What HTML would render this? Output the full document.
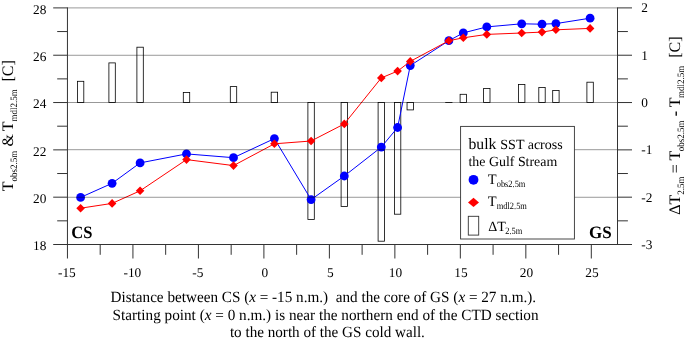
<!DOCTYPE html>
<html><head><meta charset="utf-8"><title>bulk SST across the Gulf Stream</title>
<style>html,body{margin:0;padding:0;background:#fff}svg{display:block}text{text-rendering:geometricPrecision;font-family:"Liberation Serif","Times New Roman",serif;fill:#000}</style></head><body>
<svg width="685" height="342" viewBox="0 0 685 342">
<rect width="685" height="342" fill="#fff"/>
<g fill="none" stroke="#000" stroke-width="0.8">
<rect x="77.40" y="81.30" width="6.4" height="21.24"/>
<rect x="108.90" y="62.90" width="6.4" height="39.64"/>
<rect x="136.90" y="47.20" width="6.4" height="55.34"/>
<rect x="183.30" y="92.40" width="6.4" height="10.14"/>
<rect x="230.30" y="86.60" width="6.4" height="15.94"/>
<rect x="271.20" y="92.20" width="6.4" height="10.34"/>
<rect x="307.90" y="102.54" width="6.4" height="116.86"/>
<rect x="341.10" y="102.54" width="6.4" height="103.86"/>
<rect x="378.10" y="102.54" width="6.4" height="138.66"/>
<rect x="394.40" y="102.54" width="6.4" height="111.66"/>
<rect x="407.05" y="102.54" width="6.4" height="7.36"/>
<rect x="445.65" y="102.50" width="6.4" height="0.04"/>
<rect x="460.10" y="94.30" width="6.4" height="8.24"/>
<rect x="483.60" y="88.50" width="6.4" height="14.04"/>
<rect x="518.50" y="84.50" width="6.4" height="18.04"/>
<rect x="538.80" y="87.40" width="6.4" height="15.14"/>
<rect x="552.70" y="90.40" width="6.4" height="12.14"/>
<rect x="586.90" y="82.20" width="6.4" height="20.34"/>
</g>
<polyline fill="none" stroke="#0000ff" stroke-width="1" points="80.6,197.4 112.1,183.3 140.1,162.9 186.5,153.9 233.5,157.7 274.4,138.6 311.1,199.6 344.3,176.0 381.3,147.1 397.6,127.5 410.25,65.6 448.85,40.7 463.3,32.9 486.8,26.9 521.7,23.8 542.0,24.2 555.9,23.6 590.1,18.2"/>
<g fill="#0000ff"><circle cx="80.6" cy="197.4" r="4.4"/><circle cx="112.1" cy="183.3" r="4.4"/><circle cx="140.1" cy="162.9" r="4.4"/><circle cx="186.5" cy="153.9" r="4.4"/><circle cx="233.5" cy="157.7" r="4.4"/><circle cx="274.4" cy="138.6" r="4.4"/><circle cx="311.1" cy="199.6" r="4.4"/><circle cx="344.3" cy="176.0" r="4.4"/><circle cx="381.3" cy="147.1" r="4.4"/><circle cx="397.6" cy="127.5" r="4.4"/><circle cx="410.25" cy="65.6" r="4.4"/><circle cx="448.85" cy="40.7" r="4.4"/><circle cx="463.3" cy="32.9" r="4.4"/><circle cx="486.8" cy="26.9" r="4.4"/><circle cx="521.7" cy="23.8" r="4.4"/><circle cx="542.0" cy="24.2" r="4.4"/><circle cx="555.9" cy="23.6" r="4.4"/><circle cx="590.1" cy="18.2" r="4.4"/></g>
<polyline fill="none" stroke="#ff0000" stroke-width="1" points="80.6,208.2 112.1,203.4 140.1,190.8 186.5,159.6 233.5,165.6 274.4,143.8 311.1,141.0 344.3,123.9 381.3,77.9 397.6,71.1 410.25,61.4 448.85,40.7 463.3,37.8 486.8,34.4 521.7,33.0 542.0,32.1 555.9,29.8 590.1,28.4"/>
<g fill="#ff0000"><path d="M76.30 208.2L80.6 203.90L84.90 208.2L80.6 212.50Z"/><path d="M107.80 203.4L112.1 199.10L116.40 203.4L112.1 207.70Z"/><path d="M135.80 190.8L140.1 186.50L144.40 190.8L140.1 195.10Z"/><path d="M182.20 159.6L186.5 155.30L190.80 159.6L186.5 163.90Z"/><path d="M229.20 165.6L233.5 161.30L237.80 165.6L233.5 169.90Z"/><path d="M270.10 143.8L274.4 139.50L278.70 143.8L274.4 148.10Z"/><path d="M306.80 141.0L311.1 136.70L315.40 141.0L311.1 145.30Z"/><path d="M340.00 123.9L344.3 119.60L348.60 123.9L344.3 128.20Z"/><path d="M377.00 77.9L381.3 73.60L385.60 77.9L381.3 82.20Z"/><path d="M393.30 71.1L397.6 66.80L401.90 71.1L397.6 75.40Z"/><path d="M405.95 61.4L410.25 57.10L414.55 61.4L410.25 65.70Z"/><path d="M444.55 40.7L448.85 36.40L453.15 40.7L448.85 45.00Z"/><path d="M459.00 37.8L463.3 33.50L467.60 37.8L463.3 42.10Z"/><path d="M482.50 34.4L486.8 30.10L491.10 34.4L486.8 38.70Z"/><path d="M517.40 33.0L521.7 28.70L526.00 33.0L521.7 37.30Z"/><path d="M537.70 32.1L542.0 27.80L546.30 32.1L542.0 36.40Z"/><path d="M551.60 29.8L555.9 25.50L560.20 29.8L555.9 34.10Z"/><path d="M585.80 28.4L590.1 24.10L594.40 28.4L590.1 32.70Z"/></g>
<g stroke="#000" stroke-width="1" opacity="0.4">
<line x1="67.45" x2="617.5" y1="7.9" y2="7.9"/>
<line x1="67.45" x2="617.5" y1="55.27" y2="55.27"/>
<line x1="67.45" x2="617.5" y1="102.5" y2="102.5"/>
<line x1="67.45" x2="617.5" y1="149.7" y2="149.7"/>
<line x1="67.45" x2="617.5" y1="197.27" y2="197.27"/>
</g>
<rect x="460.6" y="126.4" width="113.8" height="112.6" fill="#fff" stroke="#333" stroke-width="0.9"/>
<g stroke="#333" stroke-width="1" fill="none">
<line x1="67.45" x2="67.45" y1="7.4" y2="258.5"/>
<line x1="617.5" x2="617.5" y1="7.4" y2="245.0"/>
<line x1="53.2" x2="632" y1="244.5" y2="244.5"/>
<line x1="53.2" x2="67.45" y1="7.90" y2="7.90"/>
<line x1="617.5" x2="632" y1="7.90" y2="7.90"/>
<line x1="57.2" x2="67.45" y1="31.56" y2="31.56"/>
<line x1="617.5" x2="627.9" y1="31.56" y2="31.56"/>
<line x1="53.2" x2="67.45" y1="55.22" y2="55.22"/>
<line x1="617.5" x2="632" y1="55.22" y2="55.22"/>
<line x1="57.2" x2="67.45" y1="78.88" y2="78.88"/>
<line x1="617.5" x2="627.9" y1="78.88" y2="78.88"/>
<line x1="53.2" x2="67.45" y1="102.54" y2="102.54"/>
<line x1="617.5" x2="632" y1="102.54" y2="102.54"/>
<line x1="57.2" x2="67.45" y1="126.20" y2="126.20"/>
<line x1="617.5" x2="627.9" y1="126.20" y2="126.20"/>
<line x1="53.2" x2="67.45" y1="149.86" y2="149.86"/>
<line x1="617.5" x2="632" y1="149.86" y2="149.86"/>
<line x1="57.2" x2="67.45" y1="173.52" y2="173.52"/>
<line x1="617.5" x2="627.9" y1="173.52" y2="173.52"/>
<line x1="53.2" x2="67.45" y1="197.18" y2="197.18"/>
<line x1="617.5" x2="632" y1="197.18" y2="197.18"/>
<line x1="57.2" x2="67.45" y1="220.84" y2="220.84"/>
<line x1="617.5" x2="627.9" y1="220.84" y2="220.84"/>
<line x1="100.19" x2="100.19" y1="244.5" y2="254.8"/>
<line x1="132.93" x2="132.93" y1="244.5" y2="258.5"/>
<line x1="165.67" x2="165.67" y1="244.5" y2="254.8"/>
<line x1="198.41" x2="198.41" y1="244.5" y2="258.5"/>
<line x1="231.16" x2="231.16" y1="244.5" y2="254.8"/>
<line x1="263.90" x2="263.90" y1="244.5" y2="258.5"/>
<line x1="296.64" x2="296.64" y1="244.5" y2="254.8"/>
<line x1="329.38" x2="329.38" y1="244.5" y2="258.5"/>
<line x1="362.12" x2="362.12" y1="244.5" y2="254.8"/>
<line x1="394.86" x2="394.86" y1="244.5" y2="258.5"/>
<line x1="427.60" x2="427.60" y1="244.5" y2="254.8"/>
<line x1="460.34" x2="460.34" y1="244.5" y2="258.5"/>
<line x1="493.08" x2="493.08" y1="244.5" y2="254.8"/>
<line x1="525.83" x2="525.83" y1="244.5" y2="258.5"/>
<line x1="558.57" x2="558.57" y1="244.5" y2="254.8"/>
<line x1="591.31" x2="591.31" y1="244.5" y2="258.5"/>
</g>
<g font-size="13.33px">
<text x="46.3" y="250.40" text-anchor="end">18</text>
<text x="46.3" y="203.08" text-anchor="end">20</text>
<text x="46.3" y="155.76" text-anchor="end">22</text>
<text x="46.3" y="108.44" text-anchor="end">24</text>
<text x="46.3" y="61.12" text-anchor="end">26</text>
<text x="46.3" y="13.80" text-anchor="end">28</text>
<text x="641.3" y="249.00">-3</text>
<text x="641.3" y="201.68">-2</text>
<text x="641.3" y="154.36">-1</text>
<text x="641.3" y="107.04">0</text>
<text x="641.3" y="59.72">1</text>
<text x="641.3" y="12.40">2</text>
<text x="66.85" y="277.3" text-anchor="middle">-15</text>
<text x="132.33" y="277.3" text-anchor="middle">-10</text>
<text x="197.81" y="277.3" text-anchor="middle">-5</text>
<text x="264.90" y="277.3" text-anchor="middle">0</text>
<text x="330.38" y="277.3" text-anchor="middle">5</text>
<text x="395.46" y="277.3" text-anchor="middle">10</text>
<text x="460.94" y="277.3" text-anchor="middle">15</text>
<text x="526.43" y="277.3" text-anchor="middle">20</text>
<text x="591.91" y="277.3" text-anchor="middle">25</text>
</g>
<text x="71.2" y="238.2" font-size="17.33px" font-weight="bold" textLength="21.2" lengthAdjust="spacingAndGlyphs">CS</text>
<text x="589" y="238.2" font-size="17.33px" font-weight="bold" textLength="22.75" lengthAdjust="spacingAndGlyphs">GS</text>
<text x="468.5" y="148.9" font-size="15.7px">bulk <tspan font-size="14px">SST across</tspan></text>
<text x="468.5" y="165.5" font-size="13.9px">the Gulf Stream</text>
<circle cx="473.5" cy="179.8" r="4.9" fill="#0000ff"/>
<path d="M468 202.4L473.5 197.8L479 202.4L473.5 207Z" fill="#ff0000"/>
<rect x="468.3" y="216.3" width="10.4" height="18.8" fill="#fff" stroke="#333" stroke-width="0.9"/>
<g font-size="14.5px"><text x="487.8" y="184">T</text><text x="487.8" y="206.4">T</text><text x="488.3" y="230.5" font-size="14px">ΔT</text></g>
<g font-size="9.6px" lengthAdjust="spacingAndGlyphs"><text x="496.7" y="186.6" textLength="28.7" lengthAdjust="spacingAndGlyphs">obs2.5m</text><text x="496.8" y="209" textLength="30.1" lengthAdjust="spacingAndGlyphs">mdl2.5m</text><text x="505.2" y="233.9" textLength="17.0" lengthAdjust="spacingAndGlyphs">2.5m</text></g>
<g transform="translate(13.3 0) rotate(-90)" font-size="16px">
<text x="-191.20" y="0">T</text>
<text x="-181.40" y="3.8" font-size="9.7px" textLength="30.75" lengthAdjust="spacingAndGlyphs">obs2.5m</text>
<text x="-146.50" y="0">&amp;</text>
<text x="-131.20" y="0">T</text>
<text x="-121.40" y="3.8" font-size="9.7px" textLength="32.26" lengthAdjust="spacingAndGlyphs">mdl2.5m</text>
<text x="-81.60" y="0">[C]</text>
</g>
<g transform="translate(679.8 0) rotate(-90)" font-size="16px">
<text x="-214.80" y="0">ΔT</text>
<text x="-194.80" y="3.8" font-size="9.7px" textLength="18.25" lengthAdjust="spacingAndGlyphs">2.5m</text>
<text x="-173.20" y="0">=</text>
<text x="-160.40" y="0">T</text>
<text x="-151.30" y="3.8" font-size="9.7px" textLength="30.75" lengthAdjust="spacingAndGlyphs">obs2.5m</text>
<text x="-116.30" y="0" font-weight="bold">-</text>
<text x="-107.20" y="0">T</text>
<text x="-98.00" y="3.8" font-size="9.7px" textLength="32.26" lengthAdjust="spacingAndGlyphs">mdl2.5m</text>
<text x="-57.80" y="0">[C]</text>
</g>
<g font-size="15.6px">
<text x="110.5" y="301.6" id="c1" textLength="425.6" lengthAdjust="spacingAndGlyphs" style="white-space:pre">Distance between CS (<tspan font-style="italic">x</tspan> = -15 n.m.)  and the core of GS (<tspan font-style="italic">x</tspan> = 27 n.m.).</text>
<text x="112.6" y="319.7" id="c2" textLength="426" lengthAdjust="spacingAndGlyphs">Starting point (<tspan font-style="italic">x</tspan> = 0 n.m.) is near the northern end of the CTD section</text>
<text x="229.9" y="337.3" id="c3" textLength="195" lengthAdjust="spacingAndGlyphs">to the north of the GS cold wall.</text>
</g>
</svg></body></html>
